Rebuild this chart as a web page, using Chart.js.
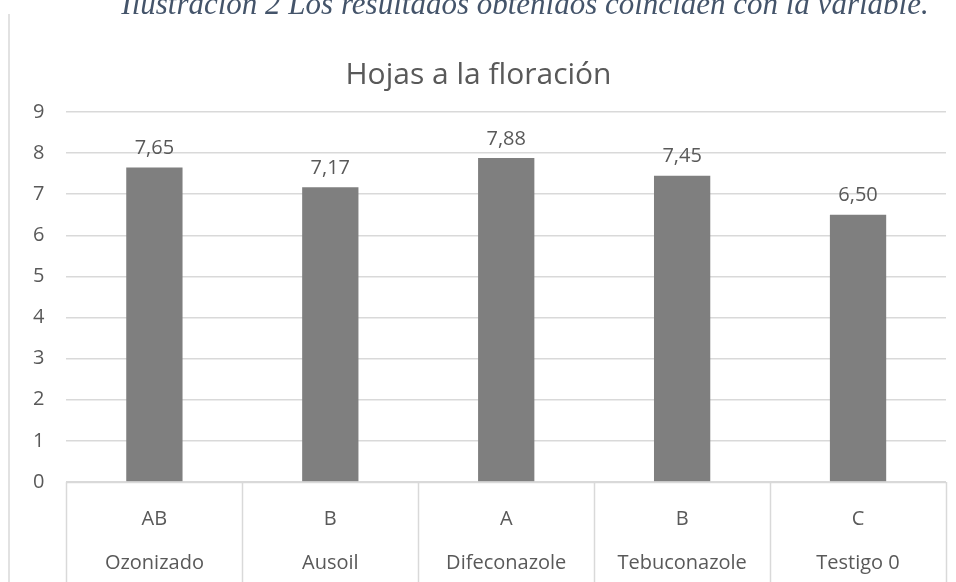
<!DOCTYPE html>
<html>
<head>
<meta charset="utf-8">
<script src="https://cdn.jsdelivr.net/npm/chart.js@4.4.1/dist/chart.umd.min.js"></script>
<style>
  html, body { margin: 0; padding: 0; background: #fff; overflow: hidden; }
  #wrap { width: 956px; height: 582px; position: relative; overflow: hidden; }
</style>
</head>
<body>
<div id="wrap"><canvas id="c" width="956" height="592"></canvas></div>
<script>
const treatments = ['Ozonizado', 'Ausoil', 'Difeconazole', 'Tebuconazole', 'Testigo 0'];
const groups = ['AB', 'B', 'A', 'B', 'C'];
const values = [7.65, 7.17, 7.88, 7.45, 6.50];
const yTicks = [0, 1, 2, 3, 4, 5, 6, 7, 8, 9];

const caption = 'Ilustración 2 Los resultados obtenidos coinciden con la variable.';
const textColor = '#595959';
const gridColor = '#d9d9d9';

// caption, frame line, value labels and category separators
const extras = {
    id: 'extras',
    afterDraw(chart) {
        const ctx = chart.ctx;
        const area = chart.chartArea;
        const x = chart.scales.x;
        ctx.save();

        ctx.font = 'italic 31px "Liberation Serif", "DejaVu Serif", serif';
        ctx.fillStyle = '#44546a';
        ctx.textAlign = 'center';
        ctx.textBaseline = 'alphabetic';
        ctx.fillText(caption, 525, 14);

        ctx.strokeStyle = gridColor;
        ctx.lineWidth = 1.5;
        ctx.beginPath();
        ctx.moveTo(9, 14);
        ctx.lineTo(9, chart.height);
        ctx.stroke();

        // two-level axis separators
        const half = (x.getPixelForValue(1) - x.getPixelForValue(0)) / 2;
        ctx.lineWidth = 1.5;
        ctx.beginPath();
        ctx.moveTo(area.left, area.bottom + 0.5);
        ctx.lineTo(area.right, area.bottom + 0.5);
        for (let i = 0; i <= values.length; i++) {
            const px = Math.round(x.getPixelForValue(i) - half) + 0.5;
            ctx.moveTo(px, area.bottom);
            ctx.lineTo(px, chart.height);
        }
        ctx.stroke();

        // data labels
        const meta = chart.getDatasetMeta(0);
        ctx.font = '20px "Open Sans", sans-serif';
        ctx.fillStyle = textColor;
        ctx.textAlign = 'center';
        ctx.textBaseline = 'middle';
        meta.data.forEach((bar, i) => {
            ctx.fillText(values[i].toFixed(2).replace('.', ','), bar.x, bar.y - 19);
        });
        ctx.restore();
    }
};

new Chart(document.getElementById('c'), {
    type: 'bar',
    data: {
        labels: treatments.map((t, i) => [groups[i], t]),
        datasets: [{
            data: values,
            backgroundColor: '#7f7f7f',
            barPercentage: 0.32,
            categoryPercentage: 1.0
        }]
    },
    options: {
        responsive: false,
        animation: false,
        layout: { padding: { left: 11, right: 10, top: 0, bottom: 0 } },
        plugins: {
            legend: { display: false },
            tooltip: { enabled: false },
            title: {
                display: true,
                text: 'Hojas a la floración',
                color: textColor,
                font: { family: '"Open Sans", sans-serif', size: 30, weight: 'normal' },
                padding: { top: 57, bottom: 19 }
            }
        },
        scales: {
            x: {
                grid: { display: false },
                border: { display: false },
                ticks: {
                    color: textColor,
                    font: { family: '"Open Sans", sans-serif', size: 20, lineHeight: 2.2 },
                    padding: 7,
                    maxRotation: 0
                }
            },
            y: {
                min: 0,
                max: 9,
                afterBuildTicks(scale) {
                    scale.ticks = yTicks.map(v => ({ value: v }));
                },
                grid: { color: gridColor, lineWidth: 1.5, drawTicks: false },
                border: { display: false },
                ticks: {
                    color: textColor,
                    font: { family: '"Open Sans", sans-serif', size: 20 },
                    padding: 22
                }
            }
        }
    },
    plugins: [extras]
});
</script>
</body>
</html>
